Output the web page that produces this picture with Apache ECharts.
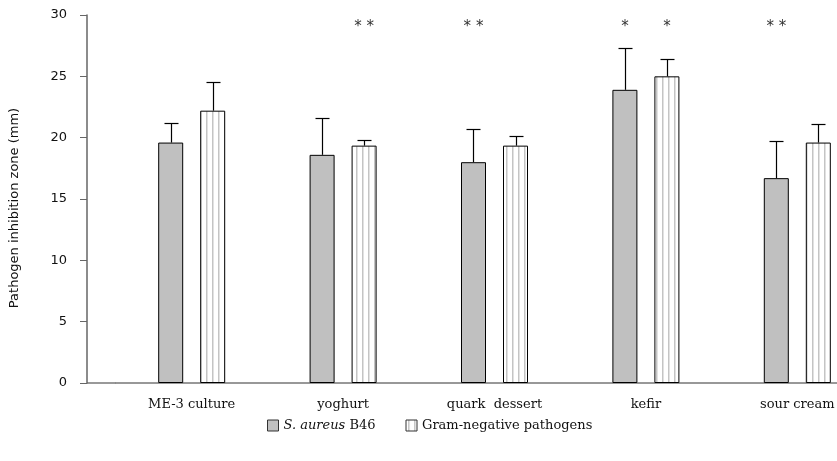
<!DOCTYPE html>
<html><head><meta charset="utf-8">
<script src="https://cdn.jsdelivr.net/npm/echarts@6/dist/echarts.min.js"></script>
<style>html,body{margin:0;padding:0;background:#fff}#c{width:837px;height:461px}</style>
</head><body><div id="c"></div>
<script>
// ---- data ----
const categories = ['ME-3 culture', 'yoghurt', 'quark  dessert', 'kefir', 'sour cream'];
const aureusName = 'S. aureus B46';
const gramName = 'Gram-negative pathogens';
const aureus    = [19.6, 18.6, 18.0, 23.9, 16.7];
const aureusErr = [1.6, 3.0, 2.7, 3.45, 3.0];
const gram      = [22.2, 19.35, 19.35, 25.0, 19.6];
const gramErr   = [2.3, 0.5, 0.8, 1.4, 1.55];
const aureusSig = ['', '', '* *', '*', '* *'];
const gramSig   = ['', '* *', '', '*', ''];
const yMin = 0, yMax = 30, yInterval = 5;
const sigLevel = 29.0;

// ---- styling helpers ----
const BAR_W = 25, BAR_GAP_PX = 17;
const BAR_OFF = (BAR_W + BAR_GAP_PX) / 2;

function stripePattern() {
  const c = document.createElement('canvas');
  c.width = 6; c.height = 10;
  const g = c.getContext('2d');
  g.fillStyle = '#ffffff'; g.fillRect(0, 0, 6, 10);
  g.fillStyle = '#c4c4c4'; g.fillRect(2, 0, 1.5, 10);
  return c;
}

function errRender(side) {
  return function (params, api) {
    const i = api.value(0);
    const v = api.value(1), e = api.value(2);
    const b = api.coord([i, v]);
    const t = api.coord([i, v + e]);
    const x = Math.round(b[0] + side * BAR_OFF) + 0.5;
    const ty = Math.round(t[1]) + 0.5;
    return {
      type: 'group',
      children: [
        { type: 'line', shape: { x1: x, y1: b[1], x2: x, y2: ty }, style: { stroke: '#000', lineWidth: 1.2 } },
        { type: 'line', shape: { x1: x - 7, y1: ty, x2: x + 7, y2: ty }, style: { stroke: '#000', lineWidth: 1.2 } }
      ]
    };
  };
}

const sigItems = [];
categories.forEach((c, i) => {
  if (aureusSig[i]) sigItems.push({ i: i, side: -1, text: aureusSig[i] });
  if (gramSig[i]) sigItems.push({ i: i, side: 1, text: gramSig[i] });
});

const chart = echarts.init(document.getElementById('c'));
const option = {
  animation: false,
  backgroundColor: '#fff',
  grid: { left: 116, top: 15, width: 757, bottom: 78, containLabel: false, outerBoundsMode: 'none' },
  legend: {
    data: [aureusName, gramName],
    left: 262, top: 414,
    itemWidth: 11, itemHeight: 11, itemGap: 30,
    icon: 'rect',
    itemStyle: { borderWidth: 1, borderColor: '#333' },
    textStyle: { fontFamily: 'DejaVu Serif', fontSize: 13, color: '#111',
      rich: { i: { fontFamily: 'DejaVu Serif', fontStyle: 'italic', fontSize: 13, color: '#111' } } },
    formatter: function (n) { return n === aureusName ? '{i|S. aureus} B46' : n; }
  },
  xAxis: {
    type: 'category',
    data: categories,
    axisLine: { show: true, lineStyle: { color: '#777', width: 1.5 } },
    axisTick: { show: false },
    axisLabel: { margin: 15, fontFamily: 'DejaVu Serif', fontSize: 13, color: '#111', interval: 0 }
  },
  yAxis: {
    type: 'value',
    min: yMin, max: yMax, interval: yInterval,
    offset: 29,
    name: 'Pathogen inhibition zone (mm)',
    nameLocation: 'middle', nameGap: 66,
    nameTextStyle: { fontFamily: 'DejaVu Sans', fontSize: 13, color: '#111', padding: [0, 0, 0, -18] },
    axisLine: { show: true, lineStyle: { color: '#666', width: 1.5 } },
    axisTick: { show: true, inside: false, length: 7, lineStyle: { color: '#666' } },
    axisLabel: { margin: 20, fontFamily: 'DejaVu Sans', fontSize: 13, color: '#111' },
    splitLine: { show: false }
  },
  series: [
    {
      name: aureusName, type: 'bar', data: aureus,
      barWidth: BAR_W, barGap: (BAR_GAP_PX / BAR_W * 100) + '%',
      itemStyle: { color: '#c0c0c0', borderColor: '#000', borderWidth: 1 }
    },
    {
      name: gramName, type: 'bar', data: gram,
      barWidth: BAR_W, barGap: (BAR_GAP_PX / BAR_W * 100) + '%',
      itemStyle: { color: { image: stripePattern(), repeat: 'repeat' }, borderColor: '#000', borderWidth: 1 }
    },
    {
      type: 'custom', name: 'aureusErr', renderItem: errRender(-1),
      data: aureus.map((v, i) => [i, v, aureusErr[i]]), encode: { x: 0, y: 1 }, z: 5
    },
    {
      type: 'custom', name: 'gramErr', renderItem: errRender(1),
      data: gram.map((v, i) => [i, v, gramErr[i]]), encode: { x: 0, y: 1 }, z: 5
    },
    {
      type: 'custom', name: 'sig',
      renderItem: function (params, api) {
        const it = sigItems[params.dataIndex];
        const p = api.coord([it.i, sigLevel]);
        return { type: 'text', x: p[0] + it.side * BAR_OFF, y: p[1],
          style: { text: it.text, fill: '#333', fontFamily: 'DejaVu Sans', fontSize: 15, align: 'center', verticalAlign: 'middle' } };
      },
      data: sigItems.map(it => [it.i, sigLevel]), encode: { x: 0, y: 1 }, z: 5
    }
  ]
};
chart.setOption(option);

// Extend baseline from the (offset) y-axis to the grid edge
const y0 = chart.convertToPixel({ yAxisIndex: 0 }, 0);
const gridRect = chart.getModel().getComponent('grid').coordinateSystem.getRect();
chart.setOption({
  graphic: [{
    type: 'line', silent: true,
    shape: { x1: gridRect.x - 29, y1: y0, x2: gridRect.x, y2: y0 },
    style: { stroke: '#777', lineWidth: 1.5 }
  }]
});
</script>
</body></html>
